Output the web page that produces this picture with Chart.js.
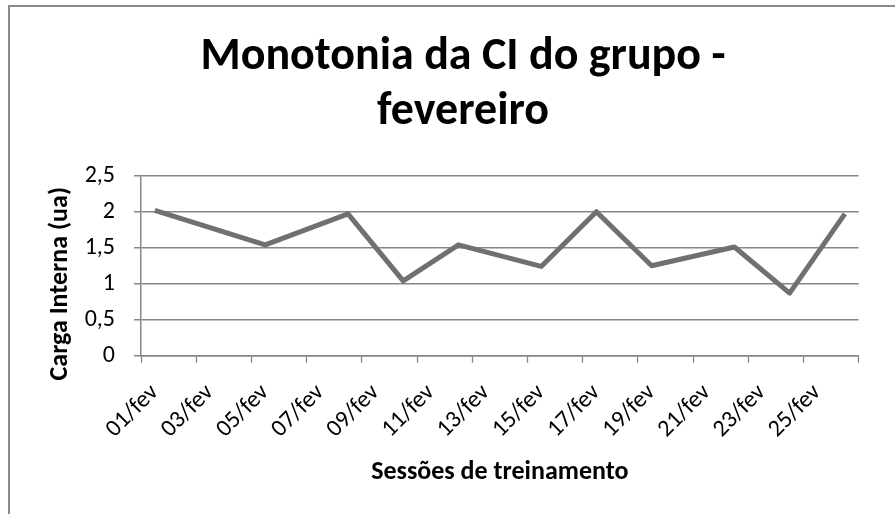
<!DOCTYPE html>
<html>
<head>
<meta charset="utf-8">
<script src="https://cdn.jsdelivr.net/npm/chart.js@4"></script>
<style>
  html, body { margin: 0; padding: 0; background: #fff; overflow: hidden; }
  #wrap { position: relative; width: 895px; height: 514px; }
  #frame { position: absolute; left: 8px; top: 5px; width: 2000px; height: 2000px;
           border-left: 2px solid #8a8a8a; border-top: 2px solid #8a8a8a; pointer-events: none; }
  canvas { position: absolute; left: 0; top: 0; }
</style>
</head>
<body>
<div id="wrap">
  <canvas id="c" width="895" height="514"></canvas>
  <div id="frame"></div>
</div>
<script>
// ---- data ----
const sessionDays = [1, 5, 8, 10, 12, 15, 17, 19, 22, 24, 26];
const monotonia   = [2.02, 1.54, 1.97, 1.04, 1.54, 1.24, 2.00, 1.25, 1.51, 0.87, 1.97];
const xTickLabels = ['01/fev','03/fev','05/fev','07/fev','09/fev','11/fev','13/fev',
                     '15/fev','17/fev','19/fev','21/fev','23/fev','25/fev'];
const yTickValues = [0, 0.5, 1, 1.5, 2, 2.5];
const titleLines  = ['Monotonia da CI do grupo -', 'fevereiro'];
const xTitle = 'Sessões de treinamento';
const yTitle = 'Carga Interna (ua)';

const FONT = "Carlito, Lato, 'Liberation Sans', sans-serif";
const AXIS = '#868686';

const labelDays = xTickLabels.map(s => parseInt(s, 10));
const points = sessionDays.map((d, i) => ({ x: d, y: monotonia[i] }));

// y-axis title drawn as rotated canvas text (Excel centres it a bit lower than the plot middle)
const yTitlePlugin = {
  id: 'yTitlePlugin',
  afterDraw(chart) {
    const { ctx, chartArea } = chart;
    ctx.save();
    ctx.font = `bold 26px ${FONT}`;
    ctx.fillStyle = '#000';
    ctx.textAlign = 'center';
    ctx.textBaseline = 'middle';
    ctx.translate(chartArea.left - 81, (chartArea.top + chartArea.bottom) / 2 + 18);
    ctx.rotate(-Math.PI / 2);
    ctx.fillText(yTitle, 0, 0);
    ctx.restore();
  }
};

new Chart(document.getElementById('c'), {
  type: 'line',
  data: {
    datasets: [{
      data: points,
      borderColor: '#707070',
      borderWidth: 5,
      pointRadius: 0,
      tension: 0,
      borderJoinStyle: 'round',
      borderCapStyle: 'butt'
    }]
  },
  options: {
    responsive: false,
    animation: false,
    layout: { padding: { left: 54, right: 23, top: 0, bottom: 0 } },
    plugins: {
      legend: { display: false },
      tooltip: { enabled: false },
      title: {
        display: true,
        text: titleLines,
        color: '#000',
        font: { family: FONT, size: 46, weight: 'bold', lineHeight: 1.196 },
        padding: { top: 29.5, bottom: 36.2 }
      }
    },
    scales: {
      x: {
        type: 'linear',
        min: 0.5,
        max: 26.5,
        afterBuildTicks: (scale) => {
          const t = [];
          for (let i = 0; i < labelDays.length; i++) {
            t.push({ value: labelDays[i] - 0.5 });
            t.push({ value: labelDays[i] });
          }
          t.push({ value: 26.5 });
          scale.ticks = t;
        },
        afterFit: (scale) => { scale.height = 158.3; },
        ticks: {
          autoSkip: false,
          maxRotation: 45,
          minRotation: 45,
          padding: 16,
          color: '#000',
          font: { family: FONT, size: 24 },
          callback: (value) => {
            const idx = labelDays.indexOf(value);
            return idx >= 0 ? xTickLabels[idx] : '';
          }
        },
        grid: {
          drawOnChartArea: false,
          tickLength: 7,
          tickWidth: 1.3,
          tickColor: (ctx) => (ctx.tick && Number.isInteger(ctx.tick.value)) ? 'rgba(0,0,0,0)' : AXIS
        },
        border: { display: true, color: AXIS, width: 1.5 },
        title: {
          display: true,
          text: xTitle,
          color: '#000',
          font: { family: FONT, size: 26, weight: 'bold', lineHeight: 1.2 },
          padding: { bottom: 26.4 }
        }
      },
      y: {
        min: 0,
        max: 2.5,
        afterBuildTicks: (scale) => { scale.ticks = yTickValues.map(v => ({ value: v })); },
        afterFit: (scale) => { scale.width = 87; },
        ticks: {
          padding: 19,
          color: '#000',
          font: { family: FONT, size: 24 },
          callback: (v) => String(v).replace('.', ',')
        },
        grid: {
          color: AXIS,
          lineWidth: 1.5,
          tickLength: 7,
          tickColor: AXIS
        },
        border: { display: true, color: AXIS, width: 1.5 },
        title: { display: false }
      }
    }
  },
  plugins: [yTitlePlugin]
});
</script>
</body>
</html>
